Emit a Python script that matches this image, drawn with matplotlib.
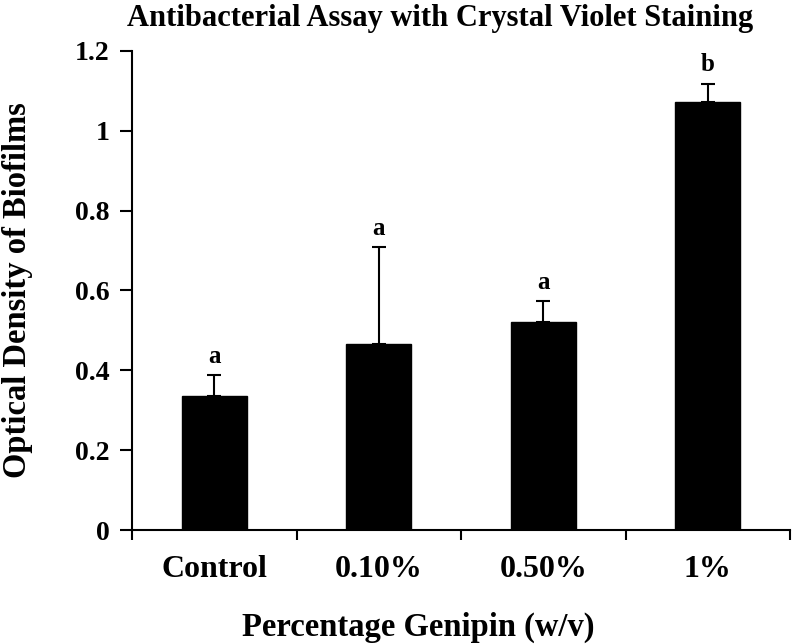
import matplotlib
matplotlib.use('Agg')
import matplotlib.pyplot as plt
import numpy as np

groups = ['Control', '0.10%', '0.50%', '1%']
density = [0.336, 0.467, 0.520, 1.071]
errUp = [0.052, 0.241, 0.053, 0.047]
letters = ['a', 'a', 'a', 'b']

plt.rcParams['font.family'] = ['Liberation Serif', 'DejaVu Serif']
plt.rcParams['font.weight'] = 'bold'

fig = plt.figure(figsize=(7.92, 6.44), dpi=100)
ax = fig.add_axes([0.1667, 0.177, 0.831, 0.744])

xPos = np.arange(len(groups))
ax.bar(xPos, density, width=0.395, color='black', edgecolor='black', zorder=2)
ax.errorbar(xPos, density, yerr=[np.zeros(len(errUp)), errUp], fmt='none',
            ecolor='black', elinewidth=1.5, capsize=5, capthick=1.5, zorder=1)

for i in range(len(groups)):
  ax.text(xPos[i], density[i] + errUp[i] + 0.018, letters[i], ha='center', va='bottom',
          fontsize=18, fontweight='bold')

ax.set_xlim(-0.5, 3.5)
ax.set_ylim(0, 1.2)
ax.set_yticks([0, 0.2, 0.4, 0.6, 0.8, 1.0, 1.2])
ax.set_yticklabels(['0', '0.2', '0.4', '0.6', '0.8', '1', '1.2'])
ax.set_xticks(xPos)
ax.set_xticklabels(groups)
ax.set_xticks(np.arange(-0.5, 4.0, 1.0), minor=True)
ax.tick_params(axis='x', which='major', length=0, pad=18, labelsize=23)
ax.tick_params(axis='x', which='minor', length=7, width=1.5, direction='out')
ax.tick_params(axis='y', length=9, width=1.5, direction='out', labelsize=20, pad=7)

for s in ['top', 'right']:
  ax.spines[s].set_visible(False)
for s in ['left', 'bottom']:
  ax.spines[s].set_linewidth(1.5)
ax.spines['left'].set_bounds(0, 1.2)

ax.set_xlabel('Percentage Genipin (w/v)', fontsize=23.5, fontweight='bold', labelpad=20, x=0.435)
ax.set_ylabel('Optical Density of Biofilms', fontsize=23.5, fontweight='bold', labelpad=30)
ax.set_title('Antibacterial Assay with Crystal Violet Staining', fontsize=22,
             fontweight='bold', pad=18, x=0.468)

plt.savefig('out.png', dpi=100)
